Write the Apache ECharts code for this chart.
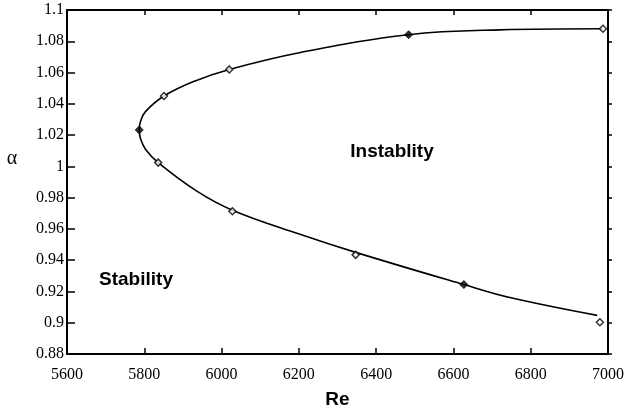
<!DOCTYPE html>
<html><head><meta charset="utf-8">
<script src="https://cdn.jsdelivr.net/npm/echarts@6/dist/echarts.min.js"></script>
<style>html,body{margin:0;padding:0;background:#fff;overflow:hidden}#c{width:633px;height:414px}</style>
</head><body><div id="c"></div>
<script>
// Fitted neutral-stability curve (upper branch -> nose -> lower branch)
const curveRe    = [6987, 6720, 6484, 6201, 6020, 5930, 5851, 5803, 5790, 5787, 5790, 5803, 5836, 5937, 6028, 6201, 6347, 6627, 6746, 6972];
const curveAlpha = [1.088, 1.0873, 1.0842, 1.0727, 1.062, 1.0545, 1.045, 1.035, 1.0285, 1.0233, 1.018, 1.011, 1.0024, 0.984, 0.972, 0.9567, 0.945, 0.9244, 0.9161, 0.9047];
// Open diamond markers
const openRe    = [5851, 6020, 6987, 5836, 6028, 6347, 6979];
const openAlpha = [1.045, 1.062, 1.088, 1.0024, 0.9713, 0.9434, 0.9003];
// Filled diamond markers
const filledRe    = [5787, 6484, 6627];
const filledAlpha = [1.0233, 1.0842, 0.9244];
// Axis ranges / ticks
const xMin = 5600, xMax = 7000, xStep = 200;
const yMin = 0.88, yMax = 1.1, yStep = 0.02;

const zip = (a, b) => a.map((v, i) => [v, b[i]]);
const serif = '"Liberation Serif", "DejaVu Serif", serif';
const sans = '"Liberation Sans", Arial, sans-serif';
const fmtY = v => {
  const r = Math.round(v * 100) / 100;
  if (Math.abs(r - 1) < 1e-9) return '1';
  if (Math.abs(r - 1.1) < 1e-9) return '1.1';
  if (Math.abs(r - 0.9) < 1e-9) return '0.9';
  return r.toFixed(2);
};
const fmtX = v => String(Math.round(v));
const axLine = {show: true, lineStyle: {color: '#000', width: 2}};

const chart = echarts.init(document.getElementById('c'), null, {renderer: 'canvas'});
chart.setOption({
  animation: false,
  backgroundColor: '#fff',
  grid: {left: 67, right: 25, top: 10, bottom: 57, containLabel: false},
  xAxis: [
    {type: 'value', min: xMin, max: xMax, interval: xStep, position: 'bottom',
     name: 'Re', nameLocation: 'middle', nameGap: 36,
     nameTextStyle: {fontFamily: sans, fontWeight: 'bold', fontSize: 19, color: '#000'},
     axisLine: axLine, axisTick: {show: true, inside: true, length: 6, lineStyle: {color: '#000', width: 1.5}},
     axisLabel: {fontFamily: serif, fontSize: 16, color: '#000', margin: 13, formatter: fmtX},
     splitLine: {show: false}},
    {type: 'value', min: xMin, max: xMax, interval: xStep, position: 'top',
     axisLine: axLine, axisTick: {show: true, inside: true, length: 5, lineStyle: {color: '#000', width: 1.5}},
     axisLabel: {show: false}, splitLine: {show: false}}
  ],
  yAxis: [
    {type: 'value', min: yMin, max: yMax, interval: yStep, position: 'left',
     axisLine: axLine, axisTick: {show: true, inside: true, length: 8, lineStyle: {color: '#000', width: 1.5}},
     axisLabel: {fontFamily: serif, fontSize: 16, color: '#000', margin: 3, formatter: fmtY},
     splitLine: {show: false}},
    {type: 'value', min: yMin, max: yMax, interval: yStep, position: 'right',
     axisLine: axLine, axisTick: {show: true, inside: false, length: 4, lineStyle: {color: '#000', width: 1.5}},
     axisLabel: {show: false}, splitLine: {show: false}}
  ],
  graphic: [
    {type: 'text', x: 12, y: 159, style: {text: 'α', font: '20px ' + serif, fill: '#000', align: 'center', verticalAlign: 'middle'}},
    {type: 'text', x: 392, y: 152, style: {text: 'Instablity', font: 'bold 19px ' + sans, fill: '#000', align: 'center', verticalAlign: 'middle'}},
    {type: 'text', x: 136, y: 280, style: {text: 'Stability', font: 'bold 19px ' + sans, fill: '#000', align: 'center', verticalAlign: 'middle'}}
  ],
  series: [
    {type: 'line', data: zip(curveRe, curveAlpha), smooth: 0.4, showSymbol: false,
     lineStyle: {color: '#000', width: 1.6}, z: 2},
    {type: 'scatter', data: zip(openRe, openAlpha), symbol: 'diamond', symbolSize: 7,
     itemStyle: {color: '#fff', borderColor: '#000', borderWidth: 1.5}, z: 3},
    {type: 'scatter', data: zip(filledRe, filledAlpha), symbol: 'diamond', symbolSize: 8,
     itemStyle: {color: '#000', borderColor: '#000', borderWidth: 1}, z: 3}
  ]
});
</script></body></html>
